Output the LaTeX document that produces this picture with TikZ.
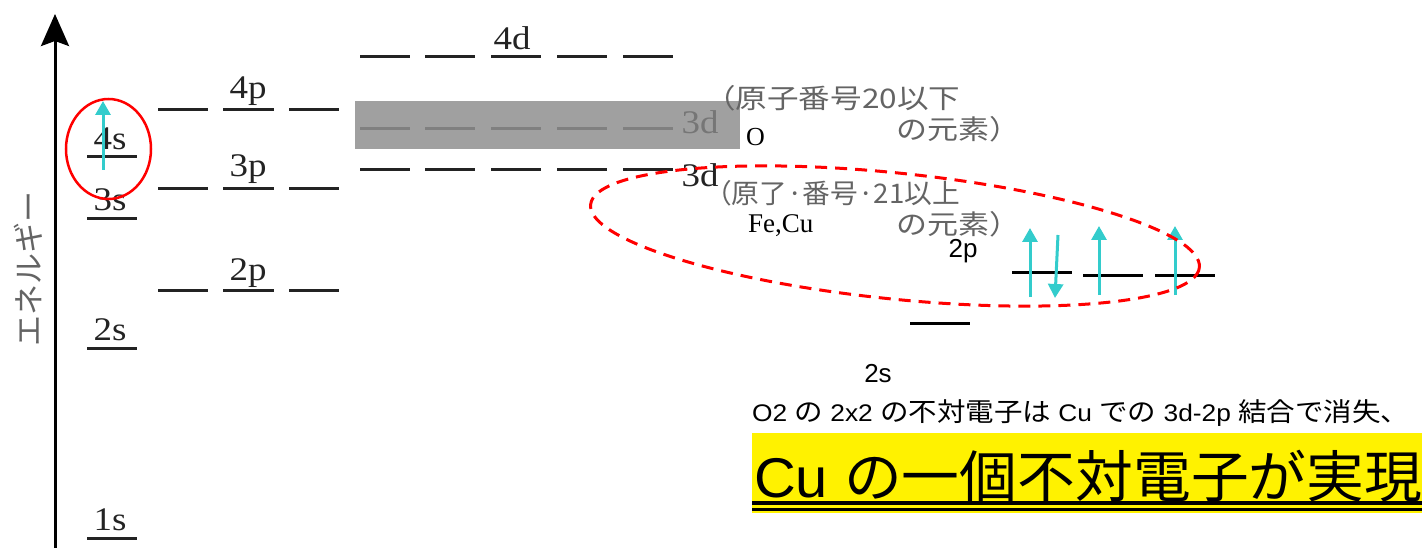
\documentclass[tikz,border=0pt]{standalone}
\usepackage{fontspec}
\usepackage{graphicx}
\setmainfont{Liberation Serif}
\newfontfamily\jp{Noto Sans CJK JP}
\newfontfamily\ars{Liberation Sans}
\usetikzlibrary{arrows.meta}
\definecolor{cyanA}{RGB}{51,204,204}
\definecolor{old}{RGB}{35,35,35}
\definecolor{oldtext}{RGB}{100,100,100}
\definecolor{shadegray}{RGB}{160,160,160}
\definecolor{shadeline}{RGB}{128,128,128}
\definecolor{shadetext}{RGB}{118,118,118}
\newcommand\J[1]{{\jp\fontsize{26}{26}\selectfont #1}}
\newcommand\lab[1]{\scalebox{1.12}[1]{\fontsize{33}{33}\selectfont #1}}
\newcommand\fitw[2]{\resizebox{#1}{\height}{#2}}
\begin{document}
\begin{tikzpicture}[x=1pt,y=-1pt,
  lvl/.style={line width=3pt, draw=old},
  glvl/.style={line width=3pt, draw=shadeline},
  nlvl/.style={line width=3pt, draw=black},
  orb/.style={text=old, inner sep=0pt, anchor=base},
  spin/.style={line width=3pt, draw=cyanA, -{Triangle[width=15pt,length=14pt]}},
  oldjp/.style={text=oldtext, inner sep=0pt, font=\jp\fontsize{27}{27}\selectfont},
  sanslab/.style={inner sep=0pt, anchor=base, font=\ars\fontsize{26}{26}\selectfont}]
\useasboundingbox (0,0) rectangle (1425,548);

% energy axis
\coordinate (ax0) at (55,548);
\coordinate (ax1) at (55,14);
\draw[line width=3pt, draw=black, -{Stealth[length=32pt,width=28pt,inset=5pt]}] (ax0) -- (ax1);
\node[rotate=90, text=oldtext, inner sep=0pt, font=\jp\fontsize{31}{31}\selectfont] (elab) at (28,269) {エネルギー};

% s levels
\foreach \y in {157,219,348,538} \draw[lvl] (87,\y) -- (137,\y);
\node[orb] (l4s) at (110,150) {\lab{4s}};
\node[orb] (l3s) at (110,211) {\lab{3s}};
\node[orb] (l2s) at (110,340) {\lab{2s}};
\node[orb] (l1s) at (110,530) {\lab{1s}};

% p levels
\foreach \y in {110,189,291} {
  \draw[lvl] (158,\y) -- (208,\y);
  \draw[lvl] (223,\y) -- (274,\y);
  \draw[lvl] (289,\y) -- (339,\y);
}
\node[orb] (l4p) at (248,99) {\lab{4p}};
\node[orb] (l3p) at (248,177) {\lab{3p}};
\node[orb] (l2p) at (248,280) {\lab{2p}};

% shaded 3d (Z<=20)
\fill[shadegray] (355,101) rectangle (740,149);
% d levels
\foreach \xa in {360,425,491,557,623} {
  \draw[lvl] (\xa,57) -- ++(50,0);
  \draw[glvl] (\xa,129) -- ++(50,0);
  \draw[lvl] (\xa,170) -- ++(50,0);
}
\node[orb] (l4d) at (512,50) {\lab{4d}};
\node[orb, text=shadetext] (l3dg) at (700,134) {\lab{3d}};
\node[orb] (l3d) at (700,187) {\lab{3d}};

% notes
\node[oldjp, anchor=base west] (n1a) at (704,109) {\fitw{256pt}{（原子番号20以下}};
\node[oldjp, anchor=base west] (n1b) at (896,140) {\fitw{124pt}{の元素）}};
\node[inner sep=0pt, anchor=base west, font=\fontsize{26}{26}\selectfont] (nO) at (746,146) {O};
\node[oldjp, anchor=base west] (n2a) at (704,204) {\fitw{256pt}{（原了·番号·21以上}};
\node[oldjp, anchor=base west] (n2b) at (896,235) {\fitw{124pt}{の元素）}};
\node[inner sep=0pt, anchor=base west, font=\fontsize{27}{27}\selectfont] (nFe) at (748,233) {Fe,Cu};

% 4s electron with circle
\draw[red, line width=2.5pt] (108.5,149) ellipse [x radius=42.5, y radius=50];
\coordinate (e4s0) at (103,170);
\coordinate (e4s1) at (103,101);
\draw[spin] (e4s0) -- (e4s1);

% oxygen 2p / 2s
\draw[nlvl] (1012,273) -- (1072,273);
\draw[nlvl] (1083,276) -- (1143,276);
\draw[nlvl] (1155,276) -- (1215,276);
\draw[nlvl] (910,323) -- (970,323);
\node[sanslab] (o2p) at (963,258) {2p};
\node[sanslab] (o2s) at (878,382) {2s};
\coordinate (a1b) at (1030,297); \coordinate (a1t) at (1030,228);
\coordinate (a2t) at (1058,235); \coordinate (a2b) at (1055,298);
\coordinate (a3b) at (1099,295); \coordinate (a3t) at (1099,226);
\coordinate (a4b) at (1175,295); \coordinate (a4t) at (1175,226);
\draw[spin] (a1b) -- (a1t);
\draw[spin] (a2t) -- (a2b);
\draw[spin] (a3b) -- (a3t);
\draw[spin] (a4b) -- (a4t);

% dashed ellipse
\begin{scope}[shift={(895,236)}, rotate=-5.9]
  \draw[red, line width=3pt, dash pattern=on 12pt off 8pt] (0,0) ellipse [x radius=306, y radius=63];
\end{scope}

% conclusion
\node[inner sep=0pt, anchor=base west] (c1) at (752,421) {\fitw{657pt}{\fontsize{24}{24}\selectfont{\ars O2\ }\J{の}{\ars\ 2x2\ }\J{の不対電子は}{\ars\ Cu\ }\J{での}{\ars\ 3d-2p\ }\J{結合で消失、}}};
\fill[yellow] (752,433) rectangle (1422,513);
\fill[black] (752,501) rectangle (1422,505);
\fill[black] (752,508) rectangle (1422,511);
\node[inner sep=0pt, anchor=base west] (c2) at (754,497) {\fitw{668pt}{\fontsize{56}{56}\selectfont{\ars Cu\ }{\jp の一個不対電子が実現}}};
\end{tikzpicture}
\end{document}
